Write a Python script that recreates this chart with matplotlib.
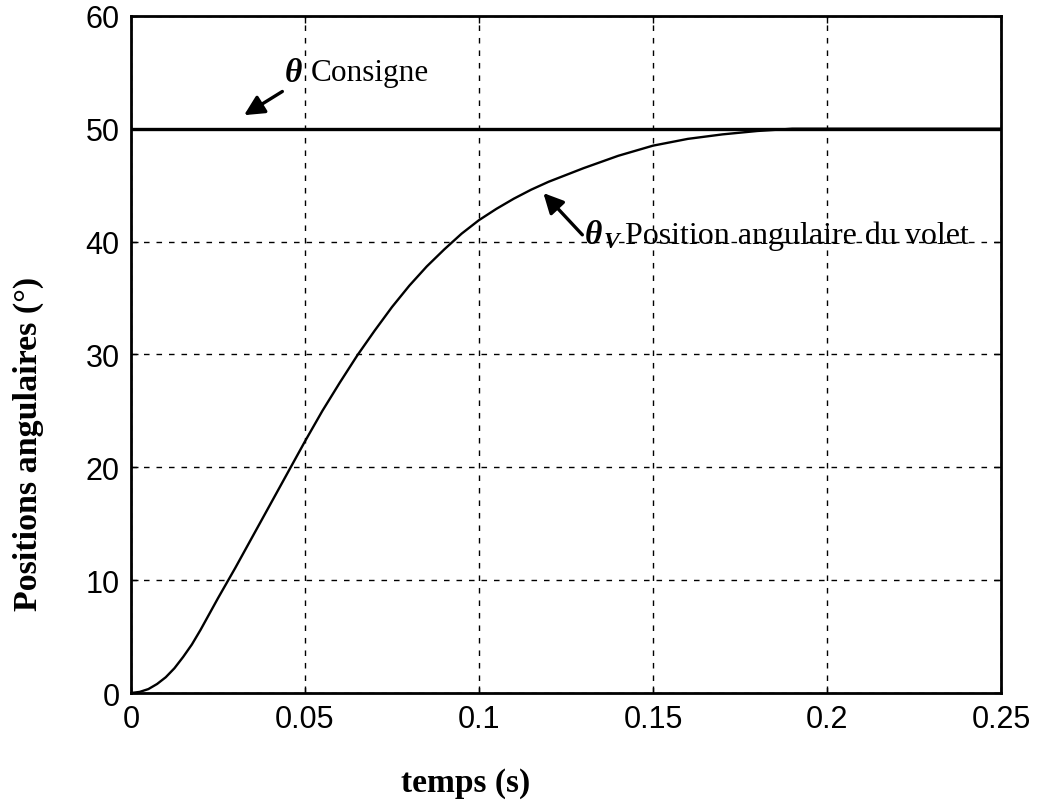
import matplotlib
matplotlib.use('Agg')
import matplotlib.pyplot as plt

# step response
temps = [0, 0.0025, 0.005, 0.0075, 0.01, 0.0125, 0.015, 0.0175, 0.02, 0.025,
         0.03, 0.035, 0.04, 0.045, 0.05, 0.055, 0.06, 0.065, 0.07, 0.075,
         0.08, 0.085, 0.09, 0.095, 0.1, 0.105, 0.11, 0.115, 0.12, 0.125,
         0.13, 0.14, 0.15, 0.16, 0.17, 0.18, 0.19, 0.2, 0.22, 0.25]
theta_v = [0, 0.1, 0.35, 0.8, 1.4, 2.2, 3.2, 4.3, 5.6, 8.4,
           11.1, 13.9, 16.7, 19.5, 22.3, 25.0, 27.5, 29.9, 32.1, 34.2,
           36.1, 37.8, 39.3, 40.7, 41.9, 42.9, 43.8, 44.6, 45.3, 45.9,
           46.5, 47.6, 48.5, 49.1, 49.5, 49.8, 50.0, 50.0, 50.0, 50.0]

consigne_t = [0, 0.25]
consigne = [50, 50]

xticks = [0, 0.05, 0.1, 0.15, 0.2, 0.25]
xticklabels = ['0', '0.05', '0.1', '0.15', '0.2', '0.25']
yticks = [0, 10, 20, 30, 40, 50, 60]

serif = ['Liberation Serif', 'DejaVu Serif']
sans = ['Liberation Sans', 'DejaVu Sans']

fig = plt.figure(figsize=(10.46, 8.03), dpi=100)
ax = fig.add_axes([0.1252, 0.1357, 0.8318, 0.8433])

ax.plot(consigne_t, consigne, color='black', linewidth=2.4)
ax.plot(temps, theta_v, color='black', linewidth=1.7)

ax.set_xlim(0, 0.25)
ax.set_ylim(0, 60)
ax.set_xticks(xticks)
ax.set_xticklabels(xticklabels)
ax.set_yticks(yticks)
ax.tick_params(direction='in', length=5, width=1, labelsize=22, pad=8,
               top=True, right=True)
for lbl in ax.get_xticklabels() + ax.get_yticklabels():
    lbl.set_family(sans)
for sp in ax.spines.values():
    sp.set_linewidth(2.0)

ax.grid(True, color='black', linestyle=(0, (4, 5)), linewidth=1.0)

ax.set_xlabel('temps (s)', family=serif, fontweight='bold', fontsize=24)
ax.xaxis.set_label_coords(0.385, -0.132)
ax.xaxis.label.set_va('center')
ax.set_ylabel('Positions angulaires (°)', family=serif, fontweight='bold', fontsize=24.5)
ax.yaxis.set_label_coords(-0.118, 0.37)
ax.yaxis.label.set_va('center')

arrow = dict(arrowstyle='-|>', color='black', lw=2.4, mutation_scale=30,
             shrinkA=0, shrinkB=0)

# consigne annotation
ax.annotate('', xy=(0.0325, 51.2), xytext=(0.0435, 53.3), arrowprops=arrow)
ax.text(0.0442, 55.0, 'θ', family=serif, fontweight='bold', fontstyle='italic',
        fontsize=24, va='center', ha='left')
ax.annotate('Consigne', xy=(0.0442, 55.0), xytext=(19, 0), textcoords='offset points',
            family=serif, fontsize=22.5, va='center', ha='left')

# volet annotation
ax.annotate('', xy=(0.1185, 44.3), xytext=(0.1297, 40.6), arrowprops=arrow)
ax.text(0.1305, 40.6, 'θ', family=serif, fontweight='bold', fontstyle='italic',
        fontsize=24, va='center', ha='left')
ax.annotate('V', xy=(0.1305, 40.6), xytext=(13.5, -4.5), textcoords='offset points',
            family=serif, fontweight='bold', fontstyle='italic', fontsize=17,
            va='center', ha='left')
ax.annotate('Position angulaire du volet', xy=(0.1305, 40.6), xytext=(29, 0),
            textcoords='offset points', family=serif, fontsize=23,
            va='center', ha='left')

fig.savefig('out.png', dpi=100)
